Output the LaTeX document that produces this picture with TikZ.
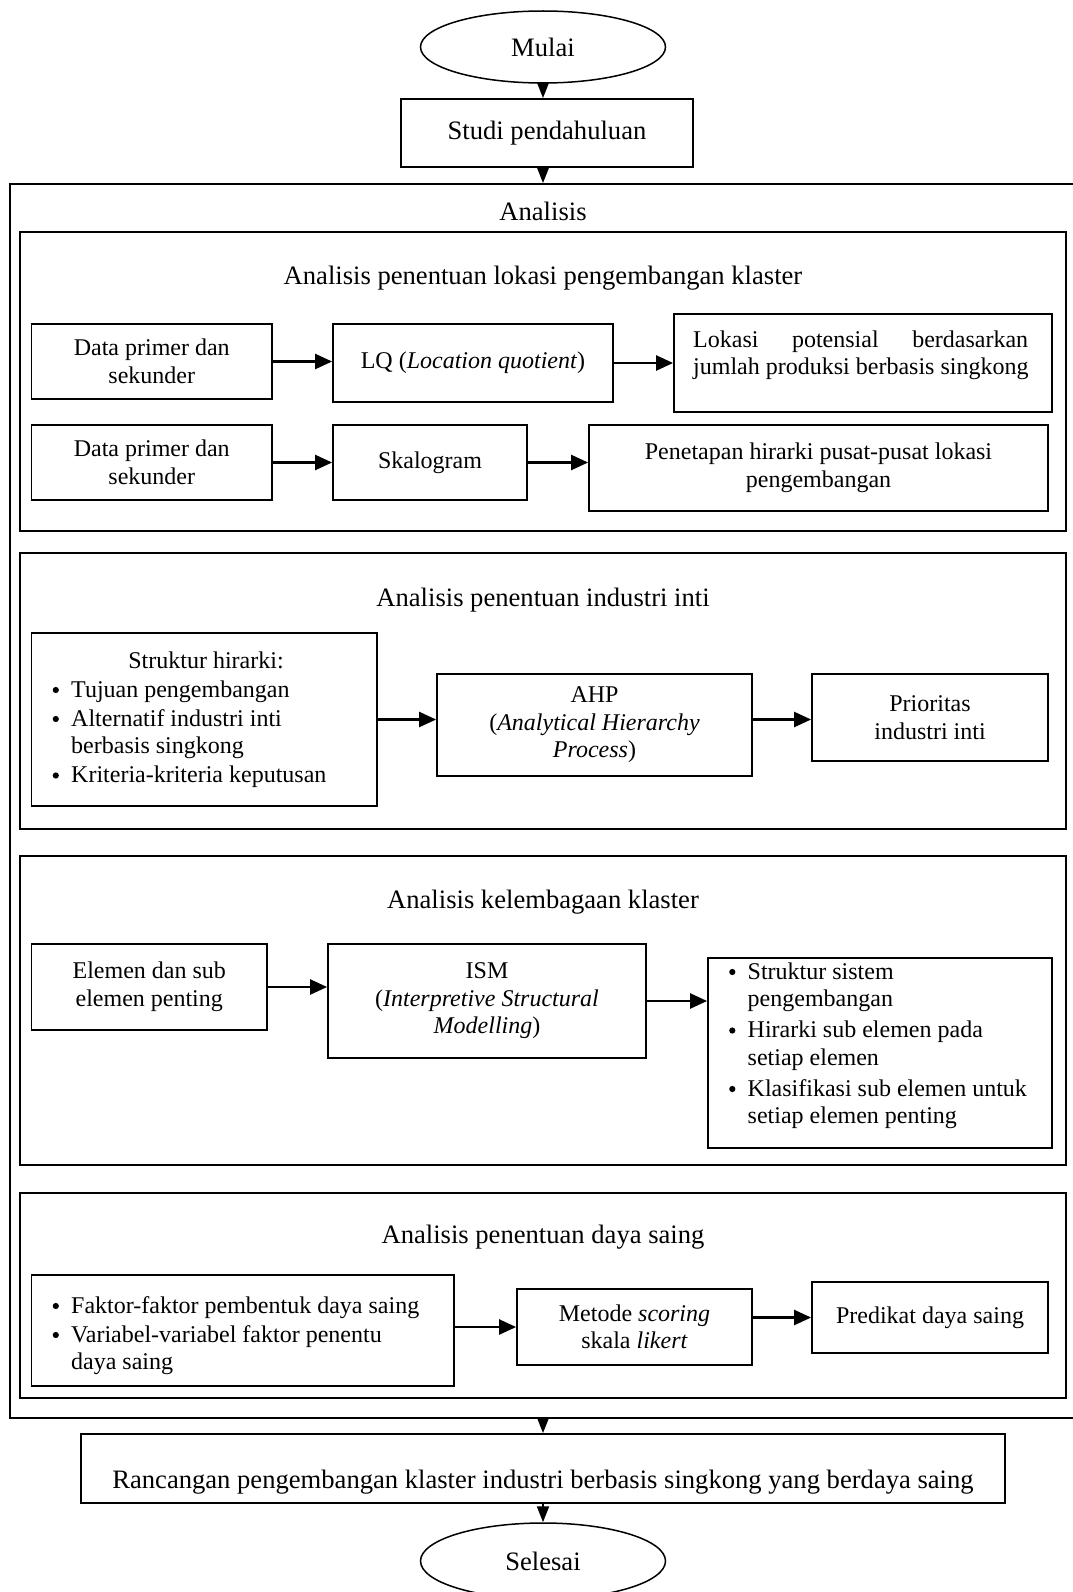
\documentclass[tikz,border=0pt]{standalone}
\usepackage{fontspec}
\setmainfont{Liberation Serif}
\usetikzlibrary{arrows.meta,shapes.geometric}
\tikzset{
  box/.style={draw, line width=1.8pt, rectangle, inner sep=0pt},
  oval/.style={draw, line width=1.5pt, ellipse, inner sep=0pt, minimum width=245pt, minimum height=72pt, font=\fontsize{26.6}{30}\selectfont},
  txt/.style={inner sep=0pt, font=\fontsize{24}{27.5}\selectfont, align=center},
  ttl/.style={inner sep=0pt, font=\fontsize{26.6}{30}\selectfont, anchor=base},
  arr/.style={line width=2.4pt, -{Triangle[length=17pt,width=15pt]}},
  varr/.style={line width=2pt, -{Triangle[length=16pt,width=12pt]}},
}
\newcommand{\bul}{\makebox[18.5pt][l]{\tikz[baseline=0pt]\fill (3.3pt,7pt) circle[radius=3.1pt];}}
\begin{document}
\begin{tikzpicture}[x=1pt,y=-1pt]
\useasboundingbox (0,0) rectangle (1072,1592);
\coordinate (axis) at (543,0);

% top
\node[oval] (mulai) at (543,47) {Mulai};
\node[box, font=\fontsize{26.6}{30}\selectfont, minimum width=292pt, minimum height=68pt] (studi) at (547,133) {Studi pendahuluan};

% outer box
\node[box, minimum width=1080pt, minimum height=1234pt] (analisis) at (550,801) {};
\node[ttl] (analisis-t) at (543,220) {Analisis};

% ---- section 1
\node[box, minimum width=1046pt, minimum height=299pt] (s1) at (543,381.5) {};
\node[ttl] (s1-t) at (543,284) {Analisis penentuan lokasi pengembangan klaster};
\node[box, txt, minimum width=240.5pt, minimum height=75pt] (a1) at (151.75,361.5) {Data primer dan\\sekunder};
\node[box, txt, minimum width=280pt, minimum height=78pt] (a2) at (473,363) {LQ (\textit{Location quotient})};
\node[box, minimum width=378pt, minimum height=98pt] (a3) at (863,363) {};
\node[txt, anchor=base west] (a3-t) at (693,347) {\begin{tabular}[t]{@{}l@{}}\makebox[335pt]{Lokasi\hfill potensial\hfill berdasarkan}\\jumlah produksi berbasis singkong\end{tabular}};
\node[box, txt, minimum width=240.5pt, minimum height=75pt] (b1) at (151.75,462.5) {Data primer dan\\sekunder};
\node[box, txt, minimum width=194pt, minimum height=75pt] (b2) at (430,462.5) {Skalogram};
\node[box, txt, minimum width=459pt, minimum height=86pt] (b3) at (818.5,468) {Penetapan hirarki pusat-pusat lokasi\\pengembangan};

% ---- section 2
\node[box, minimum width=1046pt, minimum height=276pt] (s2) at (543,691) {};
\node[ttl] (s2-t) at (543,606) {Analisis penentuan industri inti};
\node[box, minimum width=345.5pt, minimum height=173pt] (c1) at (204.25,719.5) {};
\node[ttl, font=\fontsize{24}{27.5}\selectfont] (c1-t) at (206,668) {Struktur hirarki:};
\node[txt, anchor=base west] (c1-l) at (52.5,697) {\begin{tabular}[t]{@{}l@{}l@{}}\bul & Tujuan pengembangan\\[1.5pt]\bul & Alternatif industri inti\\ & berbasis singkong\\[1.5pt]\bul & Kriteria-kriteria keputusan\end{tabular}};
\node[box, txt, minimum width=315pt, minimum height=102pt] (c2) at (594.5,725) {AHP\\(\textit{Analytical Hierarchy}\\\textit{Process})};
\node[box, txt, minimum width=236pt, minimum height=87pt] (c3) at (930,717.5) {Prioritas\\industri inti};

% ---- section 3
\node[box, minimum width=1046pt, minimum height=309pt] (s3) at (543,1010.5) {};
\node[ttl] (s3-t) at (543,908) {Analisis kelembagaan klaster};
\node[box, txt, minimum width=235.5pt, minimum height=86pt] (d1) at (149.25,987) {Elemen dan sub\\elemen penting};
\node[box, txt, minimum width=318pt, minimum height=114pt] (d2) at (487,1001) {ISM\\(\textit{Interpretive Structural}\\\textit{Modelling})};
\node[box, minimum width=344pt, minimum height=190pt] (d3) at (880,1053) {};
\node[txt, anchor=base west] (d3-l) at (729,979) {\begin{tabular}[t]{@{}l@{}l@{}}\bul & Struktur sistem\\ & pengembangan\\[3.5pt]\bul & Hirarki sub elemen pada\\ & setiap elemen\\[3.5pt]\bul & Klasifikasi sub elemen untuk\\ & setiap elemen penting\end{tabular}};

% ---- section 4
\node[box, minimum width=1046pt, minimum height=205pt] (s4) at (543,1295.5) {};
\node[ttl] (s4-t) at (543,1243) {Analisis penentuan daya saing};
\node[box, minimum width=422.5pt, minimum height=111pt] (e1) at (242.75,1330.5) {};
\node[txt, anchor=base west] (e1-l) at (52.5,1313) {\begin{tabular}[t]{@{}l@{}l@{}}\bul & Faktor-faktor pembentuk daya saing\\[1.5pt]\bul & Variabel-variabel faktor penentu\\ & daya saing\end{tabular}};
\node[box, txt, minimum width=235pt, minimum height=76pt] (e2) at (634.5,1327) {Metode \textit{scoring}\\skala \textit{likert}};
\node[box, txt, minimum width=236pt, minimum height=71pt] (e3) at (930,1317.5) {Predikat daya saing};

% bottom
\node[box, minimum width=924pt, minimum height=69pt] (ranc) at (543,1468.5) {};
\node[ttl] (ranc-t) at (543,1488) {Rancangan pengembangan klaster industri berbasis singkong yang berdaya saing};
\node[oval, minimum height=76pt] (selesai) at (543,1561) {Selesai};

% connectors
\draw[varr] (mulai.south) -- (mulai.south |- studi.north);
\draw[varr] (axis |- studi.south) -- (axis |- analisis.north);
\draw[arr] (a1.east) -- (a1.east -| a2.west);
\draw[arr] (a2.east) -- (a2.east -| a3.west);
\draw[arr] (b1.east) -- (b1.east -| b2.west);
\draw[arr] (b2.east) -- (b2.east -| b3.west);
\draw[arr] (c1.east) -- (c1.east -| c2.west);
\draw[arr] (c2.east |- c1.east) -- (c1.east -| c3.west);
\draw[arr] (d1.east) -- (d1.east -| d2.west);
\draw[arr] (d2.east) -- (d2.east -| d3.west);
\draw[arr] (e1.east |- e2.west) -- (e2.west);
\draw[arr] (e2.east |- e3.west) -- (e3.west);
\draw[varr] (axis |- analisis.south) -- (axis |- ranc.north);
\draw[varr] (ranc.south) -- (ranc.south |- selesai.north);
\end{tikzpicture}
\end{document}
